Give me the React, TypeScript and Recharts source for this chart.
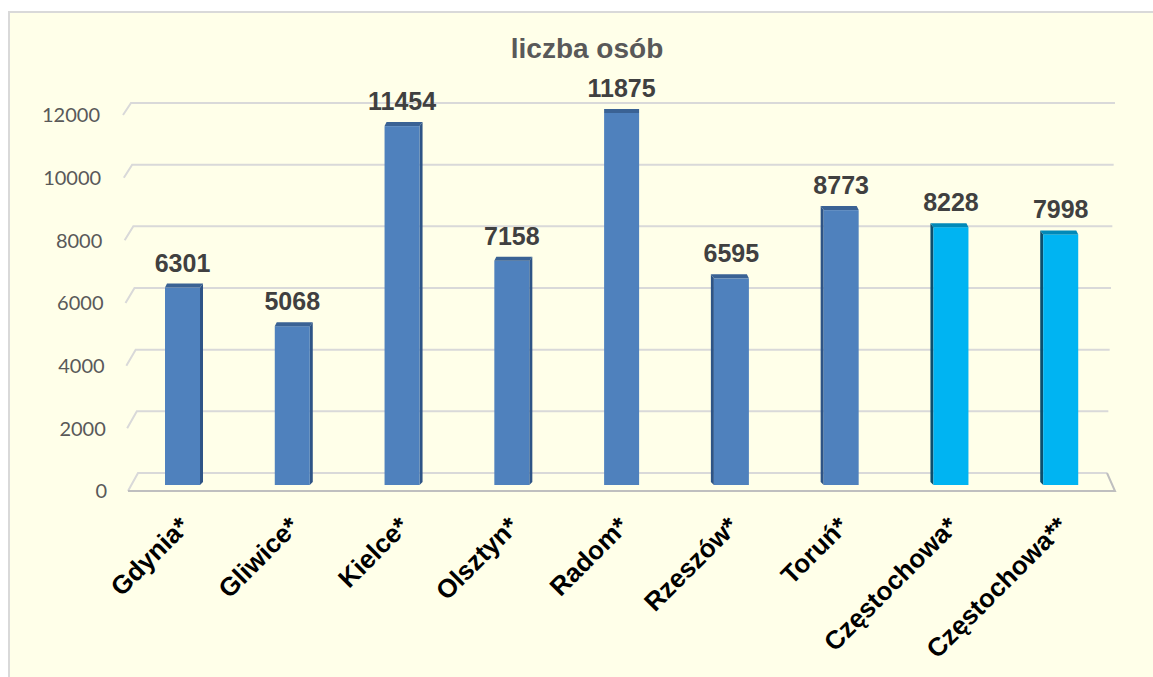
import { BarChart, Bar, XAxis, YAxis, CartesianGrid, LabelList } from "recharts";

const categories = [
  "Gdynia*",
  "Gliwice*",
  "Kielce*",
  "Olsztyn*",
  "Radom*",
  "Rzeszów*",
  "Toruń*",
  "Częstochowa*",
  "Częstochowa**",
];
const values = [6301, 5068, 11454, 7158, 11875, 6595, 8773, 8228, 7998];
const yTicks = [0, 2000, 4000, 6000, 8000, 10000, 12000];
const title = "liczba osób";

const data = categories.map((name, i) => ({ name, value: values[i] }));

const BLUE = { face: "#4F81BD", cap: "#3A6294", side: "#2E5486" };
const LIGHT = { face: "#00B4F2", cap: "#0089B8", side: "#0B4F6E" };
const barStyle = (i: number) => (i >= 7 ? LIGHT : BLUE);

const GRID = "#D9D9D9";
const PAPER = "#FFFFE9";
const LIFT = 6; // bars sit a bit behind the front plane

function GridLine(p: any) {
  const { x, y, width, height, y1 } = p;
  const t = height ? (y1 - y) / height : 0;
  const fl = x - 5 + 5 * t;
  const bl = x + 3 + 7 * t;
  const by = y1 - (12 + 6 * t);
  const br = x + width - 1 - 8 * t;
  const isFloor = t > 0.99;
  return (
    <g key={p.key}>
      <polyline
        points={`${fl},${y1} ${bl},${by} ${br},${by}`}
        fill="none"
        stroke={GRID}
        strokeWidth={2}
      />
      {isFloor && (
        <polyline
          points={`${fl},${y1} ${x + width - 1},${y1} ${br},${by}`}
          fill="none"
          stroke="#BFBFBF"
          strokeWidth={2}
        />
      )}
    </g>
  );
}

function Bar3D(p: any) {
  const { x, y, width, height, index } = p;
  if (height == null || width == null) return null;
  const s = barStyle(index);
  const mid = (categories.length - 1) / 2;
  const dir = index < mid ? 1 : index > mid ? -1 : 0;
  const top = y - LIFT;
  const bottom = y + height - LIFT;
  const right = x + width;
  const c = 4;
  const sx = 2 * dir;
  let side = null;
  if (dir > 0) {
    side = `${right},${top} ${right + 3},${top - c} ${right + 3},${bottom - 3} ${right},${bottom}`;
  } else if (dir < 0) {
    side = `${x},${top} ${x - 3},${top - c} ${x - 3},${bottom - 3} ${x},${bottom}`;
  }
  return (
    <g>
      {side && <polygon points={side} fill={s.side} />}
      <rect x={x} y={top} width={width} height={bottom - top} fill={s.face} />
      <polygon
        points={`${x},${top} ${right},${top} ${right + sx + (dir > 0 ? 1 : 0)},${top - c} ${x + sx - (dir < 0 ? 1 : 0)},${top - c}`}
        fill={s.cap}
      />
    </g>
  );
}

function ValueLabel(p: any) {
  const { x, y, width, value } = p;
  return (
    <text
      x={x + width / 2}
      y={y - LIFT - 4 - 12}
      textAnchor="middle"
      fill="#404040"
      fontFamily="'Liberation Sans', Arial, sans-serif"
      fontWeight="bold"
      fontSize={25}
    >
      {value}
    </text>
  );
}

function YTick(p: any) {
  const { x, y, payload } = p;
  const t = 1 - payload.value / 12000;
  return (
    <text
      x={x - 28 + 7 * t}
      y={y}
      dy="0.36em"
      textAnchor="end"
      fill="#595959"
      fontFamily="Lato, 'Open Sans', sans-serif"
      fontSize={20}
    >
      {payload.value}
    </text>
  );
}

function XTick(p: any) {
  const { x, y, payload } = p;
  return (
    <g transform={`translate(${x + 8},${y + 37})`}>
      <text
        x={0}
        y={0}
        textAnchor="end"
        transform="rotate(-45)"
        fill="#000000"
        fontFamily="'Liberation Sans', Arial, sans-serif"
        fontWeight="bold"
        fontSize={26}
      >
        {payload.value}
      </text>
    </g>
  );
}

export default function App() {
  return (
    <div
      style={{
        position: "fixed",
        left: 0,
        top: 0,
        width: 1153,
        height: 677,
        overflow: "hidden",
        background: PAPER,
      }}
    >
      {/* white margin strips and the light grey frame edges, top and left */}
      <div style={{ position: "absolute", left: 0, top: 0, width: 1153, height: 11, background: "#ffffff" }} />
      <div style={{ position: "absolute", left: 0, top: 0, width: 8, height: 677, background: "#ffffff" }} />
      <div style={{ position: "absolute", left: 8, top: 11, width: 1145, height: 2, background: GRID }} />
      <div style={{ position: "absolute", left: 8, top: 11, width: 2, height: 666, background: GRID }} />
      <div
        style={{
          position: "absolute",
          left: 0,
          top: 33,
          width: 1174,
          textAlign: "center",
          fontFamily: "'Liberation Sans', Arial, sans-serif",
          fontWeight: "bold",
          fontSize: 28,
          lineHeight: "32px",
          color: "#595959",
        }}
      >
        {title}
      </div>
      <div style={{ position: "absolute", left: 0, top: 0 }}>
        <BarChart
          width={1153}
          height={677}
          data={data}
          margin={{ top: 115, right: 37, left: 0, bottom: 0 }}
          barSize={35}
        >
          <CartesianGrid horizontal={GridLine} vertical={false} />
          <XAxis
            dataKey="name"
            height={186}
            axisLine={false}
            tickLine={false}
            tickSize={0}
            tickMargin={0}
            interval={0}
            tick={XTick}
          />
          <YAxis
            width={128}
            domain={[0, 12000]}
            ticks={yTicks}
            axisLine={false}
            tickLine={false}
            tickSize={0}
            tickMargin={0}
            tick={YTick}
          />
          <Bar dataKey="value" shape={Bar3D} isAnimationActive={false}>
            <LabelList dataKey="value" content={ValueLabel} />
          </Bar>
        </BarChart>
      </div>
    </div>
  );
}
